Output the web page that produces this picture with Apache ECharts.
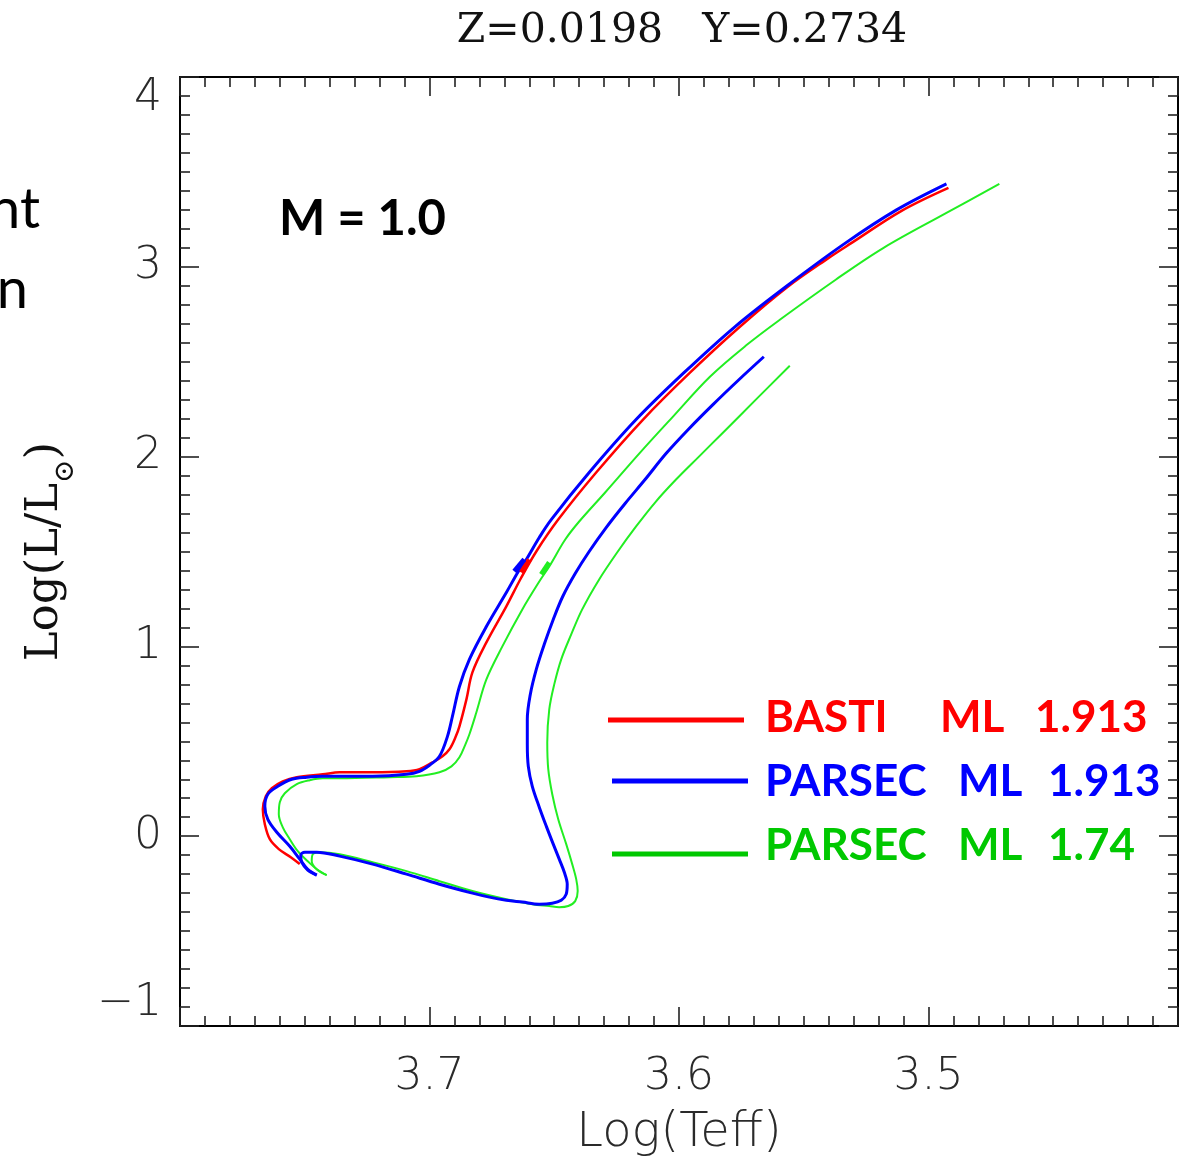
<!DOCTYPE html>
<html>
<head>
<meta charset="utf-8">
<script src="https://cdn.jsdelivr.net/npm/echarts@6/dist/echarts.min.js"></script>
<style>
html,body{margin:0;padding:0;background:#fff}
#chart{width:1180px;height:1163px}
</style>
</head>
<body>
<div id="chart"></div>
<script>
// [logTeff, logL]
const bastiTrack = [
  [3.752,-0.147],[3.7556,-0.111],[3.7604,-0.068],[3.764,-0.016],[3.766,0.063],[3.7668,0.142],
  [3.7656,0.211],[3.7632,0.253],[3.7588,0.289],[3.7532,0.311],[3.7428,0.326],[3.736,0.337],
  [3.7228,0.337],[3.7092,0.342],[3.704,0.353],[3.6988,0.389],[3.6948,0.421],[3.692,0.458],
  [3.6896,0.521],[3.688,0.579],[3.6852,0.721],[3.6828,0.863],[3.6772,1.021],[3.6692,1.211],
  [3.6632,1.363],[3.6572,1.500],[3.6484,1.668],[3.6332,1.916],[3.6144,2.195],[3.5956,2.442],
  [3.5756,2.684],[3.5564,2.895],[3.540,3.047],[3.5308,3.126],[3.5108,3.295],[3.492,3.416]
];
const parsec1913Pms = [
  [3.566,2.526],[3.576,2.405],[3.5864,2.274],[3.596,2.147],[3.6052,2.016],[3.6136,1.879],
  [3.6216,1.753],[3.6292,1.626],[3.636,1.500],[3.6416,1.384],[3.6466,1.263],[3.6504,1.142],
  [3.654,1.011],[3.6572,0.879],[3.6596,0.747],[3.6608,0.616],[3.6608,0.484],[3.6604,0.368],
  [3.6588,0.263],[3.656,0.153],[3.6532,0.053],[3.6504,-0.042],[3.648,-0.121],[3.646,-0.189],
  [3.6448,-0.253],[3.6452,-0.305],[3.6472,-0.337],[3.6508,-0.353],[3.656,-0.358],[3.6628,-0.347],
  [3.6692,-0.337],[3.676,-0.321],[3.6828,-0.300],[3.696,-0.253],[3.7092,-0.200],[3.7228,-0.147],
  [3.736,-0.105],[3.7452,-0.084],[3.750,-0.084],[3.7516,-0.100],[3.7512,-0.137],[3.7488,-0.179],
  [3.7452,-0.205]
];
const parsec1913Track = [
  [3.7452,-0.205],[3.7488,-0.174],[3.752,-0.121],[3.756,-0.053],[3.7612,0.021],[3.7648,0.089],
  [3.766,0.158],[3.7648,0.221],[3.7608,0.263],[3.7552,0.300],[3.7492,0.311],[3.7428,0.316],
  [3.736,0.316],[3.7228,0.316],[3.7092,0.326],[3.704,0.342],[3.700,0.374],[3.696,0.421],
  [3.6928,0.526],[3.6908,0.632],[3.688,0.789],[3.684,0.932],[3.6772,1.105],[3.6692,1.284],
  [3.6644,1.395],[3.6612,1.458],[3.656,1.574],[3.6512,1.668],[3.636,1.916],[3.6172,2.195],
  [3.598,2.442],[3.5776,2.684],[3.5572,2.895],[3.5332,3.126],[3.5128,3.300],[3.4928,3.437]
];
const parsec174Pms = [
  [3.5556,2.479],[3.5692,2.300],[3.5824,2.126],[3.592,2.000],[3.6012,1.879],[3.6096,1.758],
  [3.6172,1.632],[3.6248,1.495],[3.632,1.353],[3.6388,1.195],[3.6432,1.063],[3.6472,0.932],
  [3.650,0.800],[3.652,0.668],[3.6528,0.495],[3.6524,0.353],[3.6508,0.221],[3.6484,0.089],
  [3.6452,-0.042],[3.6428,-0.147],[3.6412,-0.226],[3.6406,-0.289],[3.6416,-0.342],[3.6444,-0.368],
  [3.648,-0.374],[3.652,-0.368],[3.6588,-0.358],[3.6692,-0.332],[3.6828,-0.289],[3.696,-0.237],
  [3.7092,-0.184],[3.7228,-0.137],[3.736,-0.095],[3.744,-0.084],[3.7468,-0.095],[3.7472,-0.132],
  [3.7452,-0.174],[3.7412,-0.205]
];
const parsec174Track = [
  [3.7412,-0.205],[3.7452,-0.174],[3.7488,-0.132],[3.7528,-0.079],[3.756,-0.016],[3.7588,0.047],
  [3.7604,0.116],[3.760,0.179],[3.758,0.226],[3.7532,0.274],[3.748,0.295],[3.7428,0.305],
  [3.736,0.305],[3.716,0.311],[3.7052,0.316],[3.696,0.337],[3.6912,0.368],[3.688,0.416],
  [3.6856,0.484],[3.684,0.537],[3.6812,0.653],[3.6772,0.826],[3.6708,1.000],[3.6628,1.195],
  [3.656,1.342],[3.652,1.421],[3.6456,1.563],[3.640,1.658],[3.6296,1.811],[3.6156,2.021],
  [3.6024,2.211],[3.5876,2.421],[3.5728,2.589],[3.5596,2.721],[3.5372,2.932],[3.518,3.100],
  [3.4928,3.284],[3.4716,3.437]
];
// short thick marks on the RGB
const bastiBump = [[3.6632,1.389],[3.660,1.458]];
const parsec1913Bump = [[3.666,1.395],[3.662,1.458]];
const parsec174Bump = [[3.6552,1.379],[3.652,1.442]];

const xTickValues = [3.7, 3.6, 3.5];
const yTickValues = [-1, 0, 1, 2, 3, 4];

const RED = '#ff0000', BLUE = '#0000ff', GREEN = '#22ee22', GREEN_TXT = '#00c800';

const chart = echarts.init(document.getElementById('chart'));

function axisBase() {
  return {
    axisLine: {show: true, onZero: false, lineStyle: {color: '#000', width: 2}},
    axisTick: {show: true, inside: true, length: 19, lineStyle: {color: '#222', width: 1.6}},
    minorTick: {show: true, splitNumber: 10, length: 10, lineStyle: {color: '#222', width: 1.6}},
    splitLine: {show: false},
    minorSplitLine: {show: false}
  };
}
const labelFont = {color: '#2a2a2a', fontSize: 44, fontFamily: 'DejaVu Sans', fontWeight: 200};

function line(data, color, width, z) {
  return {
    type: 'line', data: data, showSymbol: false, smooth: 0.35, z: z,
    lineStyle: {color: color, width: width}, silent: true, animation: false
  };
}

chart.setOption({
  animation: false,
  backgroundColor: '#fff',
  grid: {left: 180, right: 2, top: 77, bottom: 136},
  xAxis: [
    Object.assign(axisBase(), {
      type: 'value', position: 'bottom', min: 3.4, max: 3.8, interval: 0.1, inverse: true,
      axisLabel: Object.assign({margin: 30, showMinLabel: false, showMaxLabel: false,
        formatter: v => xTickValues.some(t => Math.abs(t - v) < 1e-6) ? v.toFixed(1) : ''}, labelFont),
      name: 'Log(Teff)', nameLocation: 'middle', nameGap: 84,
      nameTextStyle: {color: '#2a2a2a', fontSize: 48, fontFamily: 'DejaVu Sans', fontWeight: 200}
    }),
    Object.assign(axisBase(), {
      type: 'value', position: 'top', min: 3.4, max: 3.8, interval: 0.1, inverse: true,
      axisLabel: {show: false}
    })
  ],
  yAxis: [
    Object.assign(axisBase(), {
      type: 'value', position: 'left', min: -1, max: 4, interval: 1,
      axisLabel: Object.assign({margin: 18, verticalAlignMaxLabel: 'top', verticalAlignMinLabel: 'bottom',
        formatter: v => yTickValues.includes(v) ? (v < 0 ? '\u2212' + Math.abs(v) : String(v)) : ''}, labelFont),
      name: '{a|Log(L/L}{s|\u2299}{a|)}', nameLocation: 'middle', nameGap: 112, nameRotate: 90,
      nameTextStyle: {
        rich: {
          a: {fontSize: 45, fontFamily: 'DejaVu Serif', color: '#111'},
          s: {fontSize: 28, fontFamily: 'DejaVu Serif', color: '#111', verticalAlign: 'bottom', padding: [0, 0, -12, 0]}
        }
      }
    }),
    Object.assign(axisBase(), {
      type: 'value', position: 'right', min: -1, max: 4, interval: 1,
      axisLabel: {show: false}
    })
  ],
  title: {
    text: 'Z=0.0198   Y=0.2734', left: 677, top: 6, textAlign: 'center',
    textStyle: {fontFamily: 'DejaVu Serif', fontWeight: 'normal', fontSize: 41, color: '#111'}
  },
  series: [
    line(parsec174Pms, GREEN, 2, 2),
    line(parsec174Track, GREEN, 2, 2),
    line(bastiTrack, RED, 2.5, 3),
    line(parsec1913Pms, BLUE, 3, 4),
    line(parsec1913Track, BLUE, 3, 4),
    line(parsec174Bump, GREEN, 5, 5),
    line(bastiBump, RED, 5, 5),
    line(parsec1913Bump, BLUE, 5, 5)
  ],
  graphic: [
    {type: 'text', x: 40, y: 238, style: {text: 'nt', textAlign: 'right', textVerticalAlign: 'bottom', fill: '#000', font: '56px Lato'}},
    {type: 'text', x: 28, y: 318, style: {text: 'n', textAlign: 'right', textVerticalAlign: 'bottom', fill: '#000', font: '56px Lato'}},
    {type: 'text', x: 279, y: 219, style: {text: 'M = 1.0', textVerticalAlign: 'middle', fill: '#000', font: 'bold 49px Lato'}},
    {type: 'line', shape: {x1: 608, y1: 720, x2: 744, y2: 720}, style: {stroke: RED, lineWidth: 5}},
    {type: 'line', shape: {x1: 612, y1: 781, x2: 748, y2: 781}, style: {stroke: BLUE, lineWidth: 5}},
    {type: 'line', shape: {x1: 612, y1: 854, x2: 748, y2: 854}, style: {stroke: GREEN_TXT, lineWidth: 5}},
    {type: 'text', x: 765, y: 718, style: {text: 'BASTI', textVerticalAlign: 'middle', fill: RED, font: 'bold 44px Lato'}},
    {type: 'text', x: 940, y: 718, style: {text: 'ML', textVerticalAlign: 'middle', fill: RED, font: 'bold 44px Lato'}},
    {type: 'text', x: 1035, y: 718, style: {text: '1.913', textVerticalAlign: 'middle', fill: RED, font: 'bold 44px Lato'}},
    {type: 'text', x: 765, y: 782, style: {text: 'PARSEC', textVerticalAlign: 'middle', fill: BLUE, font: 'bold 44px Lato'}},
    {type: 'text', x: 958, y: 782, style: {text: 'ML', textVerticalAlign: 'middle', fill: BLUE, font: 'bold 44px Lato'}},
    {type: 'text', x: 1048, y: 782, style: {text: '1.913', textVerticalAlign: 'middle', fill: BLUE, font: 'bold 44px Lato'}},
    {type: 'text', x: 765, y: 846, style: {text: 'PARSEC', textVerticalAlign: 'middle', fill: GREEN_TXT, font: 'bold 44px Lato'}},
    {type: 'text', x: 958, y: 846, style: {text: 'ML', textVerticalAlign: 'middle', fill: GREEN_TXT, font: 'bold 44px Lato'}},
    {type: 'text', x: 1048, y: 846, style: {text: '1.74', textVerticalAlign: 'middle', fill: GREEN_TXT, font: 'bold 44px Lato'}}
  ]
});
</script>
</body>
</html>
